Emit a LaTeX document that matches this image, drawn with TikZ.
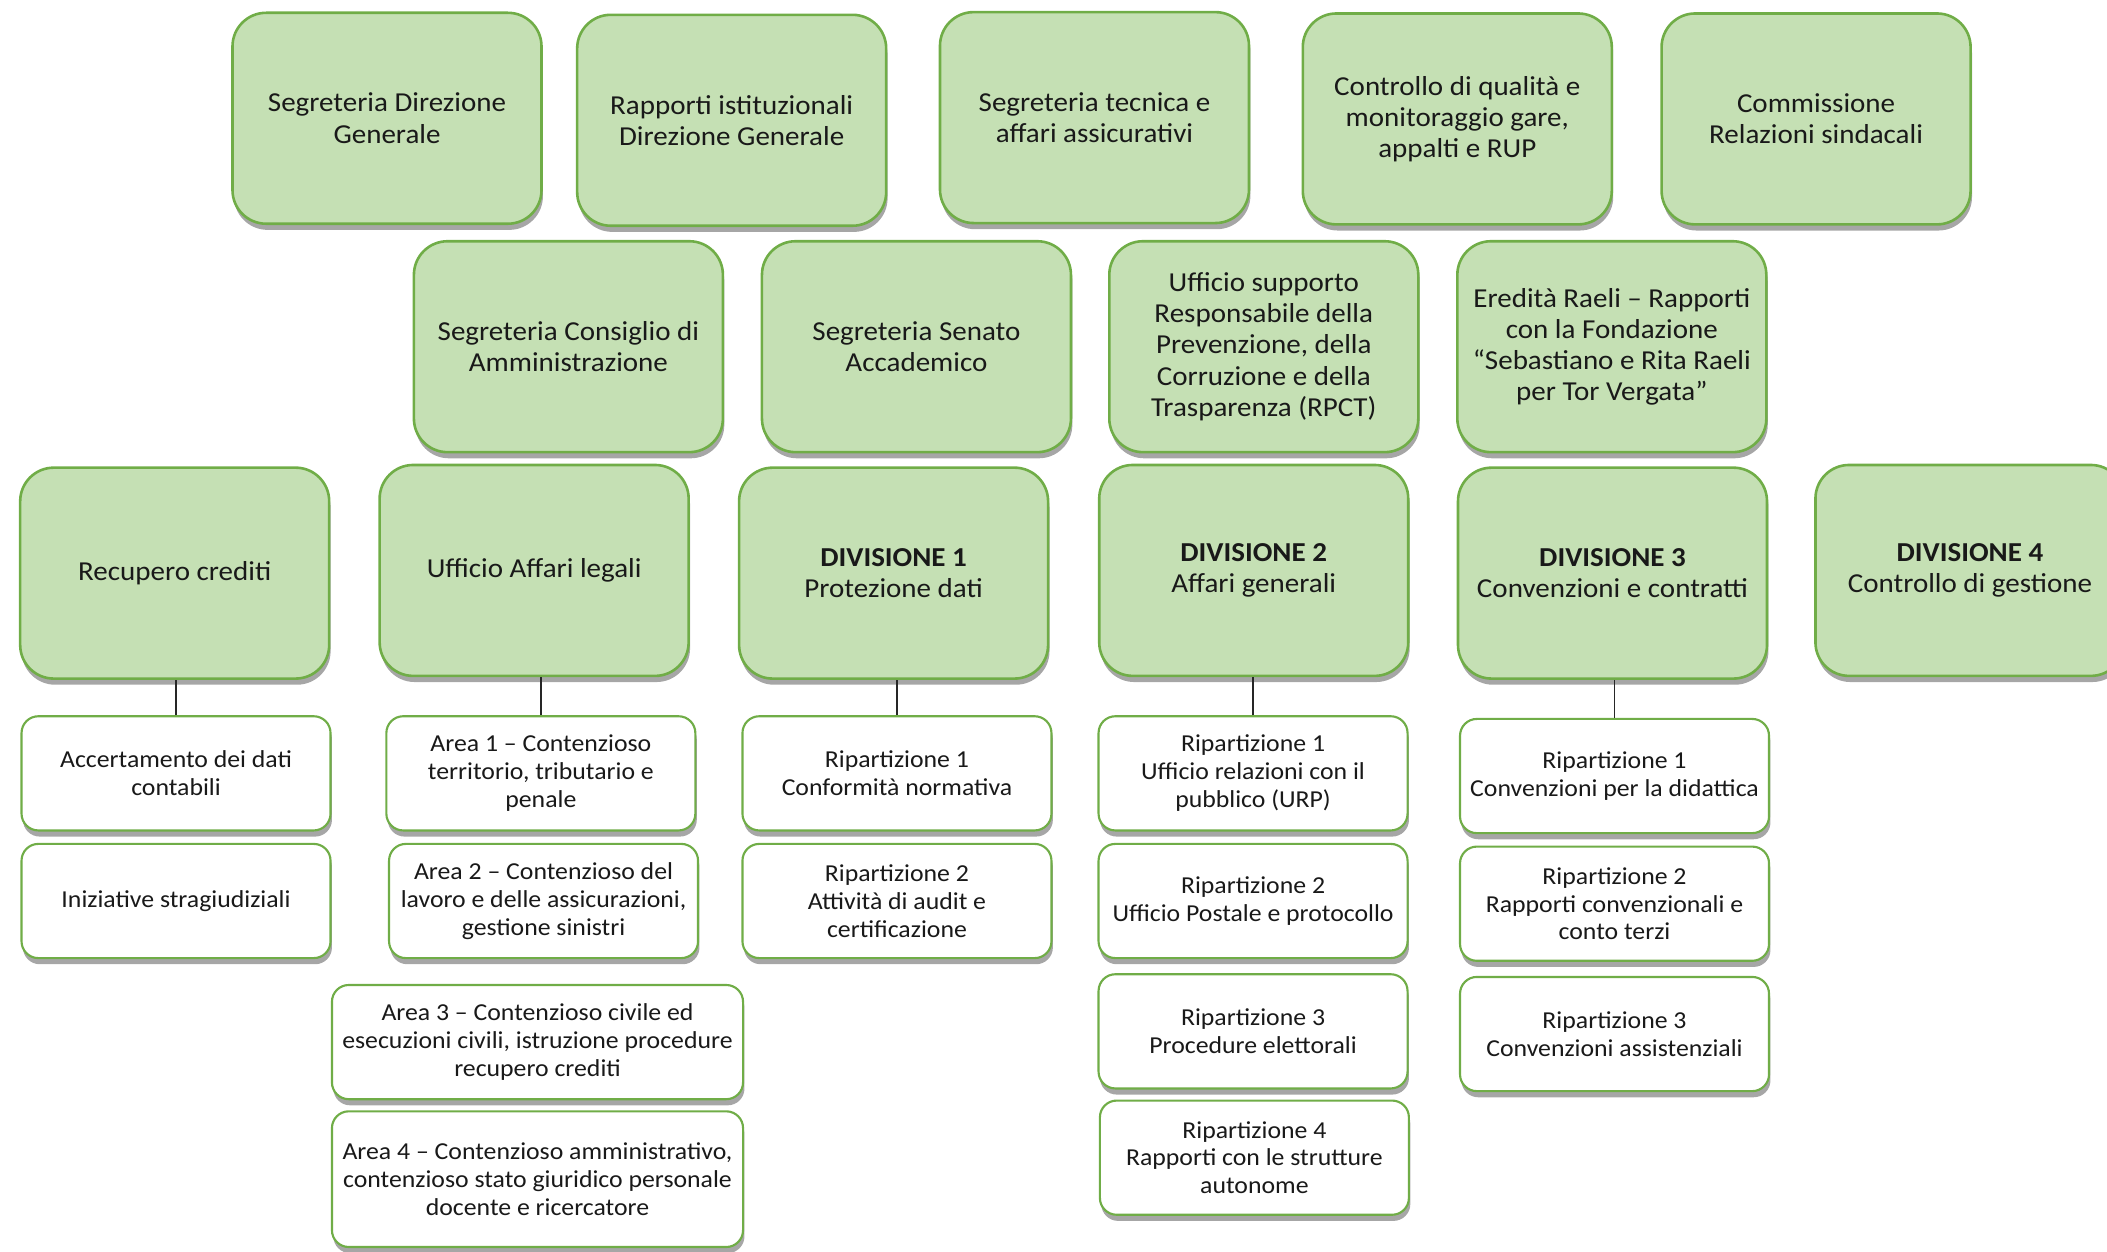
\documentclass[tikz,border=0pt]{standalone}
\usepackage{fontspec}
\setmainfont{Carlito}[FakeStretch=1.06]
\usetikzlibrary{shadows}
\definecolor{gfill}{RGB}{197,224,180}
\definecolor{gborder}{RGB}{112,173,71}
\definecolor{txt}{RGB}{25,25,25}
\tikzset{
  shad/.style={drop shadow={shadow xshift=0.6pt, shadow yshift=-2.6pt, opacity=0.35, fill=black}},
  gbox/.style={shad, draw=gborder, fill=gfill, line width=1.1pt, rounded corners=0.5cm,
    minimum width=4.6cm, minimum height=3.14cm, align=center, inner sep=2pt, text=txt,
    font=\fontsize{11.6}{13.2}\selectfont},
  wbox/.style={shad, draw=gborder, fill=white, line width=0.9pt, rounded corners=0.25cm,
    minimum width=4.6cm, minimum height=1.7cm, align=center, inner sep=2pt, text=txt,
    font=\fontsize{10.3}{11.8}\selectfont},
  conn/.style={draw=black!85, line width=0.7pt}
}
\begin{document}
\begin{tikzpicture}[x=0.02cm, y=-0.02cm]
\useasboundingbox (0,0) rectangle (1568,931);
% row 1
\node[gbox] (sdg) at (288,88) {Segreteria Direzione\\Generale};
\node[gbox] (rid) at (544.5,89.5) {Rapporti istituzionali\\Direzione Generale};
\node[gbox] (sta) at (814.5,87.5) {Segreteria tecnica e\\affari assicurativi};
\node[gbox] (cqm) at (1084.5,88.5) {Controllo di qualità e\\monitoraggio gare,\\appalti e RUP};
\node[gbox] (crs) at (1351.5,88.5) {Commissione\\Relazioni sindacali};
% row 2
\node[gbox] (scda) at (423,258) {Segreteria Consiglio di\\Amministrazione};
\node[gbox] (ssa) at (682,258) {Segreteria Senato\\Accademico};
\node[gbox] (usr) at (940.5,258) {Ufficio supporto\\Responsabile della\\Prevenzione, della\\Corruzione e della\\Trasparenza (RPCT)};
\node[gbox] (era) at (1199.5,258) {Eredità Raeli – Rapporti\\con la Fondazione\\“Sebastiano e Rita Raeli\\per Tor Vergata”};
% row 3
\node[gbox] (rc) at (130,426.5) {Recupero crediti};
\node[gbox] (ual) at (397.5,424.5) {Ufficio Affari legali};
\node[gbox] (d1) at (665,426.5) {\textbf{DIVISIONE 1}\\Protezione dati};
\node[gbox] (d2) at (933,424.5) {\textbf{DIVISIONE 2}\\Affari generali};
\node[gbox] (d3) at (1200,426.5) {\textbf{DIVISIONE 3}\\Convenzioni e contratti};
\node[gbox] (d4) at (1466,424.5) {\textbf{DIVISIONE 4}\\Controllo di gestione};
% children of Recupero crediti
\node[wbox] (rc1) at (131,575.5) {Accertamento dei dati\\contabili};
\node[wbox] (rc2) at (131,670.5) {Iniziative stragiudiziali};
% children of Affari legali
\node[wbox] (al1) at (402.5,575.5) {Area 1 – Contenzioso\\territorio, tributario e\\penale};
\node[wbox] (al2) at (404.5,670.5) {Area 2 – Contenzioso del\\lavoro e delle assicurazioni,\\gestione sinistri};
\node[wbox, minimum width=6.12cm] (al3) at (400,775.5) {Area 3 – Contenzioso civile ed\\esecuzioni civili, istruzione procedure\\recupero crediti};
\node[wbox, minimum width=6.12cm, minimum height=2.02cm] (al4) at (400,877.5) {Area 4 – Contenzioso amministrativo,\\contenzioso stato giuridico personale\\docente e ricercatore};
% children of Divisione 1
\node[wbox] (d1a) at (667.5,575.5) {Ripartizione 1\\Conformità normativa};
\node[wbox] (d1b) at (667.5,670.5) {Ripartizione 2\\Attività di audit e\\certificazione};
% children of Divisione 2
\node[wbox] (d2a) at (932.5,575.5) {Ripartizione 1\\Ufficio relazioni con il\\pubblico (URP)};
\node[wbox] (d2b) at (932.5,670.5) {Ripartizione 2\\Ufficio Postale e protocollo};
\node[wbox] (d2c) at (932.5,767.5) {Ripartizione 3\\Procedure elettorali};
\node[wbox] (d2d) at (933.5,861.5) {Ripartizione 4\\Rapporti con le strutture\\autonome};
% children of Divisione 3
\node[wbox] (d3a) at (1201.5,577.5) {Ripartizione 1\\Convenzioni per la didattica};
\node[wbox] (d3b) at (1201.5,672.5) {Ripartizione 2\\Rapporti convenzionali e\\conto terzi};
\node[wbox] (d3c) at (1201.5,769.5) {Ripartizione 3\\Convenzioni assistenziali};
% connectors
\draw[conn] (rc1.north) -- (rc1.north |- rc.south);
\draw[conn] (al1.north) -- (al1.north |- ual.south);
\draw[conn] (d1a.north) -- (d1a.north |- d1.south);
\draw[conn] (d2a.north) -- (d2a.north |- d2.south);
\draw[conn] (d3a.north) -- (d3a.north |- d3.south);
\end{tikzpicture}
\end{document}
